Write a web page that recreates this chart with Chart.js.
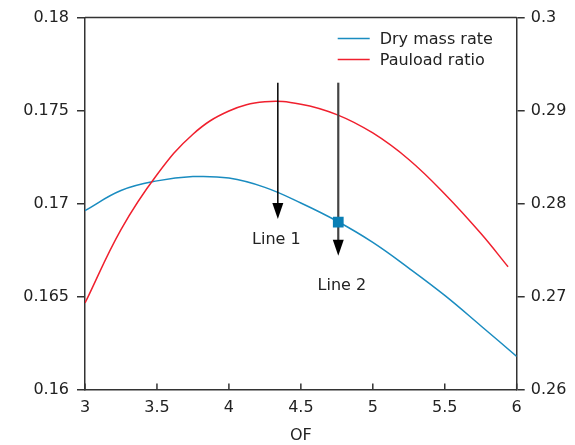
<!DOCTYPE html>
<html>
<head>
<meta charset="utf-8">
<script src="https://cdn.jsdelivr.net/npm/chart.js@4.4.1/dist/chart.umd.min.js"></script>
<style>
  html, body { margin: 0; padding: 0; background: #fff; }
  #wrap { width: 575px; height: 445px; }
</style>
</head>
<body>
<div id="wrap"><canvas id="chart" width="575" height="445"></canvas></div>
<script>
// values
const ofDry = [3, 3.25, 3.5, 3.75, 4, 4.25, 4.5, 4.75, 5, 5.25, 5.5, 5.75, 6];
const dryMassRate = [0.16962, 0.1707, 0.17122, 0.17145, 0.17137, 0.17087, 0.17003, 0.16906, 0.16791, 0.16653, 0.16506, 0.16343, 0.16178];

const ofPay = [3, 3.25, 3.5, 3.75, 4, 4.25, 4.5, 4.75, 5, 5.25, 5.5, 5.75, 5.94];
const payloadRatio = [0.2693, 0.2772, 0.2831, 0.28746, 0.28995, 0.29094, 0.29069, 0.28957, 0.28759, 0.28474, 0.28103, 0.2768, 0.2732];

const markerOF = [4.76];
const markerDry = [0.169];

const xTicks = [3, 3.5, 4, 4.5, 5, 5.5, 6];
const xTickLabels = ['3', '3.5', '4', '4.5', '5', '5.5', '6'];
const leftTicks = [0.16, 0.165, 0.17, 0.175, 0.18];
const leftTickLabels = ['0.16', '0.165', '0.17', '0.175', '0.18'];
const rightTicks = [0.26, 0.27, 0.28, 0.29, 0.3];
const rightTickLabels = ['0.26', '0.27', '0.28', '0.29', '0.3'];

// arrows: x in OF, top and tip on the left axis
const arrowNames = ['Line 1', 'Line 2'];
const arrowOF = [4.34, 4.76];
const arrowTop = [0.1765, 0.1765];
const arrowTip = [0.16917, 0.16719];
const labelOF = [4.33, 4.785];
const labelDry = [0.16805, 0.16558];

const BLUE = '#1a8cc0';
const RED = '#f0202e';
const AXIS = '#333333';
const FONT = 'DejaVu Sans';

function pts(xs, ys) {
  return xs.map((x, i) => ({ x: x, y: ys[i] }));
}

const overlay = {
  id: 'overlay',
  afterDatasetDraw(chart, args) {
    if (args.index !== 1) return;
    const ctx = chart.ctx;
    const x = chart.scales.x;
    const y = chart.scales.y;
    ctx.save();
    arrowNames.forEach((name, i) => {
      const px = x.getPixelForValue(arrowOF[i]);
      const top = y.getPixelForValue(arrowTop[i]);
      const tip = y.getPixelForValue(arrowTip[i]);
      const head = 16;
      ctx.strokeStyle = i === 0 ? '#000' : '#444';
      ctx.lineWidth = i === 0 ? 1.5 : 2.2;
      ctx.beginPath();
      ctx.moveTo(px, top);
      ctx.lineTo(px, tip - head + 2);
      ctx.stroke();
      ctx.fillStyle = '#000';
      ctx.beginPath();
      ctx.moveTo(px, tip);
      ctx.lineTo(px - 5.5, tip - head);
      ctx.lineTo(px + 5.5, tip - head);
      ctx.closePath();
      ctx.fill();

      ctx.font = '16px "' + FONT + '"';
      ctx.fillStyle = '#222';
      ctx.textAlign = 'center';
      ctx.textBaseline = 'middle';
      ctx.fillText(name, x.getPixelForValue(labelOF[i]), y.getPixelForValue(labelDry[i]));
    });
    ctx.restore();
  },
  afterDraw(chart) {
    const ctx = chart.ctx;
    const area = chart.chartArea;
    const x = chart.scales.x;
    ctx.save();
    ctx.strokeStyle = AXIS;
    ctx.lineWidth = 1.5;
    // top frame line
    ctx.beginPath();
    ctx.moveTo(area.left, area.top);
    ctx.lineTo(area.right, area.top);
    ctx.stroke();
    // x ticks point inward
    xTicks.forEach(v => {
      const px = x.getPixelForValue(v);
      ctx.beginPath();
      ctx.moveTo(px, area.bottom);
      ctx.lineTo(px, area.bottom - 6);
      ctx.stroke();
    });

    // legend
    const items = [['Dry mass rate', BLUE], ['Pauload ratio', RED]];
    ctx.font = '16px "' + FONT + '"';
    ctx.textAlign = 'left';
    ctx.textBaseline = 'middle';
    items.forEach((it, i) => {
      const ly = area.top + 21 + i * 21;
      ctx.strokeStyle = it[1];
      ctx.lineWidth = 1.5;
      ctx.beginPath();
      ctx.moveTo(area.right - 179, ly);
      ctx.lineTo(area.right - 147, ly);
      ctx.stroke();
      ctx.fillStyle = '#222';
      ctx.fillText(it[0], area.right - 137, ly + 1);
    });
    ctx.restore();
  }
};

new Chart(document.getElementById('chart'), {
  type: 'line',
  data: {
    datasets: [
      {
        label: 'Dry mass rate',
        data: pts(ofDry, dryMassRate),
        yAxisID: 'y',
        borderColor: BLUE,
        borderWidth: 1.5,
        pointRadius: 0,
        tension: 0.4,
        order: 2
      },
      {
        label: 'Pauload ratio',
        data: pts(ofPay, payloadRatio),
        yAxisID: 'y1',
        borderColor: RED,
        borderWidth: 1.5,
        pointRadius: 0,
        tension: 0.4,
        order: 1
      },
      {
        label: 'marker',
        data: pts(markerOF, markerDry),
        yAxisID: 'y',
        showLine: false,
        pointStyle: 'rect',
        pointRadius: 7.6,
        pointBackgroundColor: '#0a7fb5',
        pointBorderColor: '#0a7fb5',
        pointBorderWidth: 0,
        order: 0
      }
    ]
  },
  options: {
    responsive: false,
    animation: false,
    layout: { padding: { top: 16, left: 0, right: 0, bottom: 0 } },
    plugins: {
      legend: { display: false },
      tooltip: { enabled: false }
    },
    scales: {
      x: {
        type: 'linear',
        min: 3,
        max: 6,
        afterBuildTicks: s => { s.ticks = xTicks.map(v => ({ value: v })); },
        afterFit: s => { s.height = 55.5; },
        grid: { drawOnChartArea: false, drawTicks: false, color: AXIS },
        border: { color: AXIS, width: 1.5 },
        ticks: {
          padding: 9,
          color: '#222',
          font: { family: FONT, size: 16 },
          callback: (v, i) => xTickLabels[i]
        },
        title: {
          display: true,
          text: 'OF',
          color: '#222',
          font: { family: FONT, size: 16 },
          padding: { top: 0, bottom: 0 }
        }
      },
      y: {
        position: 'left',
        min: 0.16,
        max: 0.18,
        afterBuildTicks: s => { s.ticks = leftTicks.map(v => ({ value: v })); },
        afterFit: s => { s.width = 85; },
        grid: { drawOnChartArea: false, tickLength: 8, color: AXIS, lineWidth: 1.5 },
        border: { color: AXIS, width: 1.5 },
        ticks: {
          padding: 8,
          color: '#222',
          font: { family: FONT, size: 16 },
          callback: (v, i) => leftTickLabels[i]
        }
      },
      y1: {
        position: 'right',
        min: 0.26,
        max: 0.3,
        afterBuildTicks: s => { s.ticks = rightTicks.map(v => ({ value: v })); },
        afterFit: s => { s.width = 58.3; },
        grid: { drawOnChartArea: false, tickLength: 8, color: AXIS, lineWidth: 1.5 },
        border: { color: AXIS, width: 1.5 },
        ticks: {
          padding: 6,
          color: '#222',
          font: { family: FONT, size: 16 },
          callback: (v, i) => rightTickLabels[i]
        }
      }
    }
  },
  plugins: [overlay]
});
</script>
</body>
</html>
